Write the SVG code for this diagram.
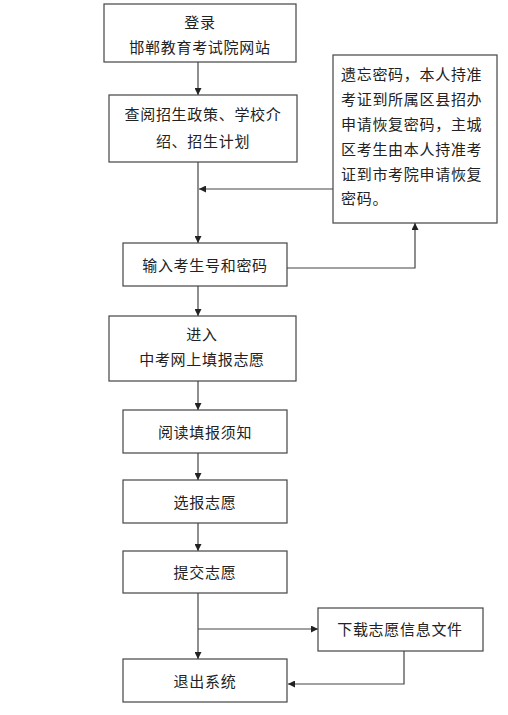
<svg xmlns="http://www.w3.org/2000/svg" width="508" height="715" viewBox="0 0 508 715">
<style>
.box{fill:#fff;stroke:#444;stroke-width:1.2}
.t{font-family:"Noto Sans CJK SC","Noto Sans CJK JP",sans-serif;font-size:15px;fill:#222;letter-spacing:0.7px}
.c{text-anchor:middle}
.ln{fill:none;stroke:#444;stroke-width:1.2}
</style>
<defs>
<marker id="ah" viewBox="0 0 10 10" refX="10" refY="5" markerWidth="7" markerHeight="7" orient="auto" markerUnits="userSpaceOnUse">
<path d="M0,0 L10,5 L0,10 Z" fill="#222"/>
</marker>
</defs>
<rect width="508" height="715" fill="#fff"/>
<g id="connectors">
<line class="ln" x1="198" y1="62" x2="198" y2="95" marker-end="url(#ah)"/>
<line class="ln" x1="198" y1="162" x2="198" y2="243" marker-end="url(#ah)"/>
<line class="ln" x1="333" y1="189" x2="199" y2="189" marker-end="url(#ah)"/>
<polyline class="ln" points="287,268 415,268 415,223" marker-end="url(#ah)"/>
<line class="ln" x1="198" y1="286" x2="198" y2="316" marker-end="url(#ah)"/>
<line class="ln" x1="198" y1="381" x2="198" y2="410" marker-end="url(#ah)"/>
<line class="ln" x1="198" y1="453" x2="198" y2="480" marker-end="url(#ah)"/>
<line class="ln" x1="198" y1="523" x2="198" y2="551" marker-end="url(#ah)"/>
<line class="ln" x1="198" y1="593" x2="198" y2="659" marker-end="url(#ah)"/>
<line class="ln" x1="198" y1="629" x2="318" y2="629" marker-end="url(#ah)"/>
<polyline class="ln" points="404,651 404,684 288,684" marker-end="url(#ah)"/>
</g>
<g id="n1">
<rect class="box" x="104" y="4" width="192" height="58"/>
<text class="t c" x="200" y="28">登录</text>
<text class="t c" x="200" y="53">邯郸教育考试院网站</text>
</g>
<g id="n2">
<rect class="box" x="109" y="95" width="188" height="67"/>
<text class="t c" x="203" y="120">查阅招生政策、学校介</text>
<text class="t c" x="203" y="147">绍、招生计划</text>
</g>
<g id="n3">
<rect class="box" x="333" y="55" width="164" height="168"/>
<text class="t" x="341" y="80">遗忘密码，本人持准</text>
<text class="t" x="341" y="105">考证到所属区县招办</text>
<text class="t" x="341" y="130">申请恢复密码，主城</text>
<text class="t" x="341" y="155">区考生由本人持准考</text>
<text class="t" x="341" y="180">证到市考院申请恢复</text>
<text class="t" x="341" y="204">密码。</text>
</g>
<g id="n4">
<rect class="box" x="123" y="243" width="164" height="43"/>
<text class="t c" x="205" y="271">输入考生号和密码</text>
</g>
<g id="n5">
<rect class="box" x="109" y="316" width="187" height="65"/>
<text class="t c" x="202" y="340">进入</text>
<text class="t c" x="202" y="365">中考网上填报志愿</text>
</g>
<g id="n6">
<rect class="box" x="123" y="410" width="164" height="43"/>
<text class="t c" x="205" y="438">阅读填报须知</text>
</g>
<g id="n7">
<rect class="box" x="123" y="480" width="164" height="43"/>
<text class="t c" x="205" y="508">选报志愿</text>
</g>
<g id="n8">
<rect class="box" x="123" y="551" width="164" height="42"/>
<text class="t c" x="205" y="578">提交志愿</text>
</g>
<g id="n9">
<rect class="box" x="318" y="608" width="165" height="43"/>
<text class="t c" x="400" y="635">下载志愿信息文件</text>
</g>
<g id="n10">
<rect class="box" x="123" y="659" width="164" height="43"/>
<text class="t c" x="205" y="687">退出系统</text>
</g>
</svg>
